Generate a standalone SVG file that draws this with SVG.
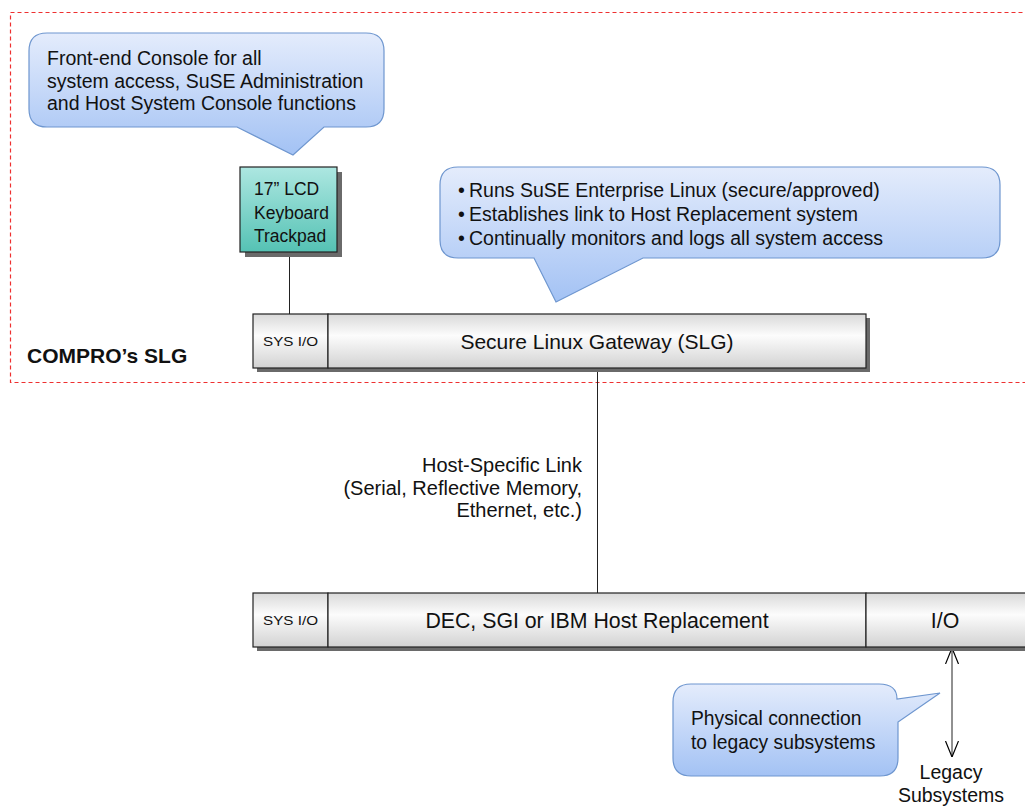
<svg xmlns="http://www.w3.org/2000/svg" width="1025" height="806" viewBox="0 0 1025 806">
<defs>
<linearGradient id="callG" x1="0" y1="0" x2="0" y2="1">
<stop offset="0" stop-color="#E4ECFC"/>
<stop offset="1" stop-color="#A3C2F4"/>
</linearGradient>
<linearGradient id="barG" x1="0" y1="0" x2="0" y2="1">
<stop offset="0" stop-color="#D9D9D9"/>
<stop offset="0.4" stop-color="#FCFCFC"/>
<stop offset="1" stop-color="#D2D2D2"/>
</linearGradient>
<linearGradient id="lcdG" x1="0" y1="0" x2="0" y2="1">
<stop offset="0" stop-color="#ADE7E1"/>
<stop offset="1" stop-color="#55C2B4"/>
</linearGradient>
<marker id="arr" markerWidth="16" markerHeight="16" refX="16" refY="7" orient="auto-start-reverse" markerUnits="userSpaceOnUse">
<path d="M0,0.5 L16,7 L0,13.5" fill="none" stroke="#000" stroke-width="1.2"/>
</marker>
<style>
.call{fill:url(#callG);stroke:#6E96CF;stroke-width:1.2}
.bar{fill:url(#barG);stroke:#222;stroke-width:1.2}
.shd{fill:#6A6A6A}
.t{font-family:"Liberation Sans",Arial,sans-serif;fill:#111}
.conn{stroke:#222;stroke-width:1;fill:none}
</style>
</defs>

<g id="boundary">
<rect x="10.5" y="12.5" width="1030" height="370" fill="none" stroke="#EE3030" stroke-width="1.2" stroke-dasharray="4,3"/>
<text class="t" x="27" y="363" font-size="21" font-weight="bold">COMPRO’s SLG</text>
</g>

<g id="connectors">
<line class="conn" x1="289.5" y1="253" x2="289.5" y2="314"/>
<line class="conn" x1="597.5" y1="368" x2="597.5" y2="593"/>
<line class="conn" x1="952" y1="648" x2="952" y2="757" marker-start="url(#arr)" marker-end="url(#arr)"/>
</g>

<g id="callout-console">
<path class="call" d="M47,33 H366 Q384,33 384,51 V109 Q384,127 366,127 H324 L293,155 L237,127 H47 Q29,127 29,109 V51 Q29,33 47,33 Z"/>
<text class="t" font-size="19.5"><tspan x="47" y="65">Front-end Console for all</tspan><tspan x="47" y="88">system access, SuSE Administration</tspan><tspan x="47" y="110">and Host System Console functions</tspan></text>
</g>

<g id="lcd">
<rect class="shd" x="245" y="172" width="97" height="85"/>
<rect x="240" y="167" width="97" height="85" fill="url(#lcdG)" stroke="#222" stroke-width="1.2"/>
<text class="t" font-size="17.5"><tspan x="254" y="195">17” LCD</tspan><tspan x="254" y="219">Keyboard</tspan><tspan x="254" y="242">Trackpad</tspan></text>
</g>

<g id="callout-slg">
<path class="call" d="M458,167 H982 Q1000,167 1000,185 V240 Q1000,258 982,258 H643 L556,302 L534,258 H458 Q440,258 440,240 V185 Q440,167 458,167 Z"/>
<text class="t" font-size="19.5"><tspan x="458" y="197">•</tspan><tspan x="469" y="197">Runs SuSE Enterprise Linux (secure/approved)</tspan><tspan x="458" y="221">•</tspan><tspan x="469" y="221">Establishes link to Host Replacement system</tspan><tspan x="458" y="245">•</tspan><tspan x="469" y="245">Continually monitors and logs all system access</tspan></text>
</g>

<g id="slg">
<rect class="shd" x="257" y="318" width="613" height="54"/>
<rect class="bar" x="253" y="314" width="75" height="54"/>
<rect class="bar" x="328" y="314" width="538" height="54"/>
<text class="t" x="290.5" y="346" font-size="13" text-anchor="middle" textLength="55" lengthAdjust="spacingAndGlyphs">SYS I/O</text>
<text class="t" x="597" y="349" font-size="21" text-anchor="middle">Secure Linux Gateway (SLG)</text>
</g>

<g id="link-label">
<text class="t" font-size="20" text-anchor="end"><tspan x="582" y="472">Host-Specific Link</tspan><tspan x="582" y="495">(Serial, Reflective Memory,</tspan><tspan x="582" y="517">Ethernet, etc.)</tspan></text>
</g>

<g id="host">
<rect class="shd" x="257" y="597" width="780" height="54"/>
<rect class="bar" x="253" y="593" width="75" height="54"/>
<rect class="bar" x="328" y="593" width="538" height="54"/>
<rect class="bar" x="866" y="593" width="170" height="54"/>
<text class="t" x="290.5" y="625" font-size="13" text-anchor="middle" textLength="55" lengthAdjust="spacingAndGlyphs">SYS I/O</text>
<text class="t" x="597" y="628" font-size="21.3" text-anchor="middle">DEC, SGI or IBM Host Replacement</text>
<text class="t" x="945" y="628" font-size="21.3" text-anchor="middle">I/O</text>
</g>

<g id="callout-legacy">
<path class="call" d="M691,684 H879 Q897,684 897,699 L940,693 L898,722 V758 Q898,776 880,776 H691 Q673,776 673,758 V702 Q673,684 691,684 Z"/>
<text class="t" font-size="19.3"><tspan x="691" y="725">Physical connection</tspan><tspan x="691" y="749">to legacy subsystems</tspan></text>
</g>

<g id="legacy">
<text class="t" font-size="19.5" text-anchor="middle"><tspan x="951" y="779">Legacy</tspan><tspan x="951" y="802">Subsystems</tspan></text>
</g>
</svg>
